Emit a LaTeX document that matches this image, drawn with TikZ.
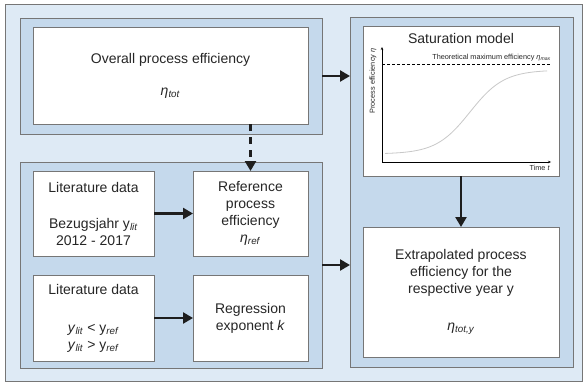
\documentclass[tikz,border=0pt]{standalone}
\usepackage{fontspec}
\setmainfont{Liberation Sans}
\usetikzlibrary{positioning, arrows.meta}

\definecolor{paneback}{RGB}{222,234,245}
\definecolor{groupfill}{RGB}{197,217,236}
\definecolor{framegray}{RGB}{118,118,118}
\definecolor{arrowdark}{RGB}{30,30,30}
\definecolor{curvegray}{RGB}{200,200,200}

\newcommand{\effsym}[1]{\textit{η}\textsubscript{\textit{#1}}}

\begin{document}
\begin{tikzpicture}[
    x=1pt, y=-1pt,
    every node/.style={font=\fontsize{14}{17}\selectfont, text=black!85},
    panel/.style={draw=framegray, fill=groupfill, line width=0.8pt, inner sep=0pt, outer sep=0pt},
    card/.style={draw=framegray, fill=white, line width=0.8pt, inner sep=0pt, outer sep=0pt, align=center},
    flow/.style={-{Triangle[length=10pt, width=11pt]}, draw=arrowdark, line width=2.4pt},
    plotlabel/.style={font=\fontsize{7.3}{9}\selectfont, inner sep=0pt}
]

    % Frame
    \useasboundingbox (0,0) rectangle (585,385);
    \draw[draw=framegray, fill=paneback, line width=0.8pt] (5,4) rectangle (582,381);

    % Groups
    \node[panel, minimum width=302pt, minimum height=116pt] (gtop) at (171,76) {};
    \node[panel, minimum width=302pt, minimum height=206pt] (gbot) at (171,265) {};
    \node[panel, minimum width=223pt, minimum height=350pt] (gright) at (461.5,192) {};

    % Boxes
    \node[card, minimum width=275pt, minimum height=97pt] (overall) at (170.5,75.5)
        {Overall process efficiency\\[15pt] \effsym{tot}};

    \node[card, minimum width=121pt, minimum height=85pt] (litA) at (93.5,213.5)
        {Literature data\\[19pt] Bezugsjahr y\textsubscript{\textit{lit}}\\ 2012 - 2017};
    \node[card, minimum width=115pt, minimum height=85pt, right=39pt of litA] (ref)
        {Reference\\ process\\ efficiency\\ \effsym{ref}};

    \node[card, minimum width=121pt, minimum height=86pt, below=19pt of litA] (litB)
        {Literature data\\[21pt] \textit{y}\textsubscript{\textit{lit}} < y\textsubscript{\textit{ref}}\\
         \textit{y}\textsubscript{\textit{lit}} > y\textsubscript{\textit{ref}}};
    \node[card, minimum width=115pt, minimum height=86pt, right=39pt of litB] (regr)
        {Regression\\ exponent \textit{k}};

    \node[card, minimum width=196pt, minimum height=150pt] (sat) at (461,101) {};
    \node[card, minimum width=196pt, minimum height=130pt, below=51pt of sat] (extra)
        {Extrapolated process\\ efficiency for the\\ respective year y\\[20pt] \effsym{tot,y}};

    % Saturation model sketch
    \node (sattitle) at (461,38) {Saturation model};
    \coordinate (orig) at (382,162);
    \coordinate (ytop) at (382,47);
    \coordinate (xend) at (551,162);
    \draw[-{Stealth[length=3pt, width=2.5pt]}, line width=0.6pt] (orig) -- (ytop);
    \draw[-{Stealth[length=3pt, width=2.5pt]}, line width=0.6pt] (orig) -- (xend);
    \draw[line width=0.8pt, dash pattern=on 3pt off 2pt] (382,64) -- (551,64);
    \draw[curvegray, line width=0.8pt, domain=385:547, samples=60, smooth]
        plot (\x, {154-84/(1+exp(-(\x-470)/17))});
    \node[plotlabel, anchor=south east] (maxlabel) at (551,61) {Theoretical maximum efficiency \effsym{max}};
    \node[plotlabel, rotate=90] (ylabel) at (373,81) {Process efficiency \textit{η}};
    \node[plotlabel, anchor=north east] (xlabel) at (550,165) {Time \textit{t}};

    % Connections
    \draw[flow] (gtop.east) -- (gtop.east -| gright.west);
    \draw[flow] (gbot.east) -- (gbot.east -| gright.west);
    \draw[flow, dash pattern=on 7pt off 6pt] (ref.north |- overall.south) -- (ref.north);
    \draw[flow] (litA) -- (ref);
    \draw[flow] (litB) -- (regr);
    \draw[flow] (sat) -- (extra);

\end{tikzpicture}
\end{document}
